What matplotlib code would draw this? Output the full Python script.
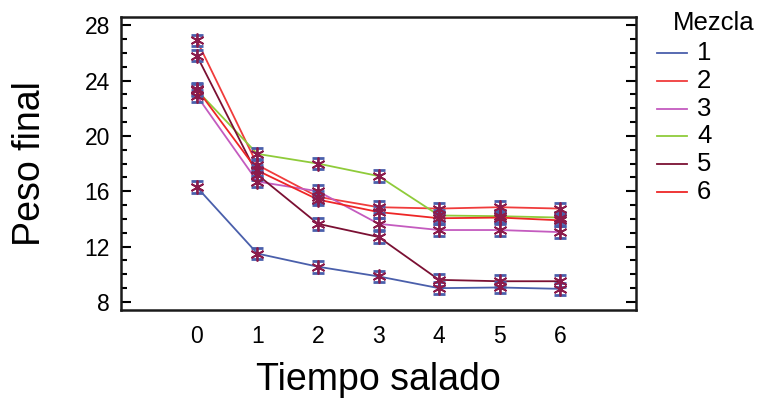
import matplotlib.pyplot as plt
from matplotlib.lines import Line2D
from matplotlib.ticker import MultipleLocator

plt.rcParams['font.family'] = ['Liberation Sans', 'DejaVu Sans']

tiempo = [0, 1, 2, 3, 4, 5, 6]
mezclas = ['1', '2', '3', '4', '5', '6']
peso_1 = [16.3, 11.5, 10.55, 9.85, 9.0, 9.05, 8.95]
peso_2 = [26.9, 17.9, 15.6, 14.85, 14.75, 14.85, 14.75]
peso_3 = [22.9, 16.7, 16.0, 13.65, 13.2, 13.2, 13.05]
peso_4 = [23.3, 18.7, 18.0, 17.1, 14.25, 14.2, 14.1]
peso_5 = [25.8, 17.2, 13.65, 12.7, 9.6, 9.5, 9.5]
peso_6 = [23.4, 17.5, 15.4, 14.5, 14.05, 14.1, 13.9]
error = 0.42  # semiamplitud del intervalo

series = [peso_1, peso_2, peso_3, peso_4, peso_5, peso_6]
colores = ['#4a5fab', '#f03c3c', '#c45bbf', '#8fcb3a', '#7b1033', '#ee2626']

fig = plt.figure(figsize=(7.57, 3.98), dpi=100)
ax = fig.add_axes([0.160, 0.221, 0.680, 0.736])

for vals, c in zip(series, colores):
    ax.plot(tiempo, vals, color=c, lw=1.3, zorder=2)
for vals in series:
    ax.errorbar(tiempo, vals, yerr=error, fmt='none', ecolor='#4a5fab',
                elinewidth=1.2, capsize=4.5, capthick=2.0, zorder=3)
    ax.plot(tiempo, vals, ls='none', marker=(6, 2, 0), ms=10, mew=1.3,
            color='#8b1c4c', zorder=4)

ax.set_xlim(-1.25, 7.25)
ax.set_ylim(7.42, 28.58)
ax.set_xticks(tiempo)
ax.yaxis.set_major_locator(MultipleLocator(4))
ax.yaxis.set_minor_locator(MultipleLocator(1))
ax.tick_params(axis='x', length=0, labelsize=16.5, pad=11)
ax.tick_params(axis='y', which='major', direction='in', length=7, width=1.5,
               right=True, labelsize=16.5, pad=8)
ax.tick_params(axis='y', which='minor', direction='in', length=4, width=1.5,
               right=True)
for s in ax.spines.values():
    s.set_linewidth(1.8)
    s.set_color('#1a1a1a')

ax.set_xlabel('Tiempo salado', fontsize=27, labelpad=10)
ax.set_ylabel('Peso final', fontsize=27, labelpad=26)

# leyenda
fig.text(673 / 757, 1 - 23 / 398, 'Mezcla', fontsize=18.5, va='center', ha='left')
for i, (lab, c) in enumerate(zip(mezclas, colores)):
    y = 1 - (53.3 + 27.7 * i) / 398
    fig.add_artist(Line2D([657 / 757, 687 / 757], [y, y], color=c, lw=1.3,
                          transform=fig.transFigure))
    fig.text(697 / 757, y, lab, fontsize=18.5, va='center', ha='left')

fig.savefig('out.png', dpi=100)
